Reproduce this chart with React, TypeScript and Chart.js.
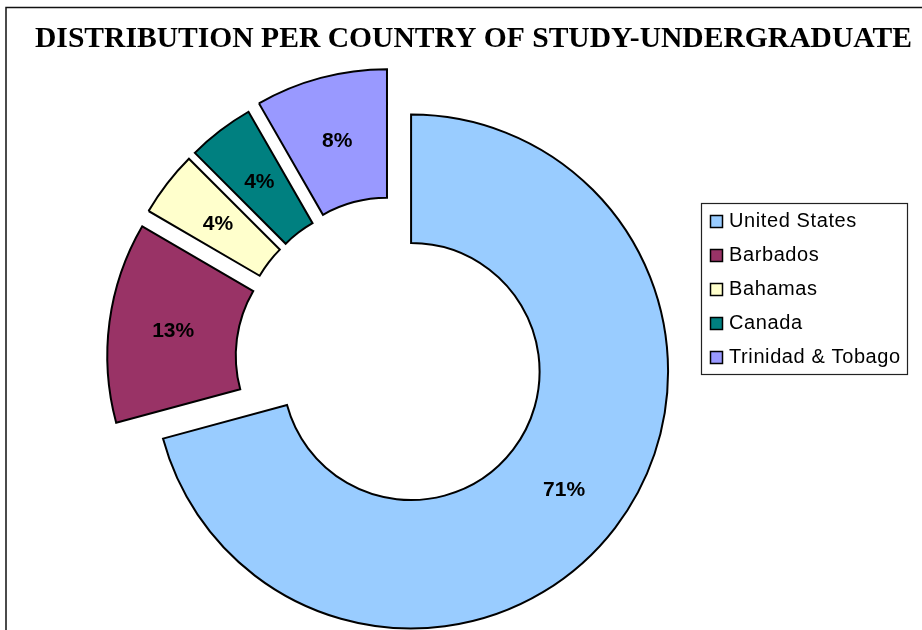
import React, { useEffect, useRef } from "react";
import { Chart, registerables } from "chart.js";

Chart.register(...registerables);

const TITLE = "DISTRIBUTION PER COUNTRY OF STUDY-UNDERGRADUATE";
const countries = ["United States", "Barbados", "Bahamas", "Canada", "Trinidad & Tobago"];
const shares = [70.8, 12.6, 4.1, 4.2, 8.3];

const sliceColors = ["#99CCFF", "#993366", "#FFFFCC", "#008080", "#9999FF"];
const explodeDistance = [19, 32, 32, 32, 35];

const W = 922;
const H = 630;
const SANS = '"Liberation Sans", Arial, sans-serif';
const SERIF = '"Liberation Serif", "Times New Roman", serif';

const decorPlugin = {
  id: "decor",
  beforeDraw(chart: any) {
    const ctx = chart.ctx as CanvasRenderingContext2D;
    ctx.save();
    ctx.fillStyle = "#ffffff";
    ctx.fillRect(0, 0, W, H);
    ctx.strokeStyle = "#111";
    ctx.lineWidth = 1.5;
    ctx.beginPath();
    ctx.moveTo(6, H + 10);
    ctx.lineTo(6, 7.5);
    ctx.lineTo(W + 10, 7.5);
    ctx.stroke();
    ctx.restore();
  },
  beforeDatasetsDraw(chart: any) {
    const ctx = chart.ctx as CanvasRenderingContext2D;
    const meta = chart.getDatasetMeta(0);
    const data = chart.data.datasets[0].data as number[];
    const total = data.reduce((a, b) => a + b, 0);
    meta.data.forEach((arc: any, i: number) => {
      const mid = (arc.startAngle + arc.endAngle) / 2;
      const d = explodeDistance[i] || 0;
      ctx.save();
      ctx.translate(Math.cos(mid) * d, Math.sin(mid) * d);
      arc.draw(ctx, chart.chartArea);
      ctx.restore();
    });
    ctx.save();
    ctx.font = `bold 21px ${SANS}`;
    ctx.fillStyle = "#000";
    ctx.textAlign = "center";
    ctx.textBaseline = "middle";
    meta.data.forEach((arc: any, i: number) => {
      const mid = (arc.startAngle + arc.endAngle) / 2;
      const d = explodeDistance[i] || 0;
      const c = arc.getCenterPoint();
      const label = Math.round((data[i] / total) * 100) + "%";
      ctx.fillText(label, c.x + Math.cos(mid) * d, c.y + Math.sin(mid) * d + 1);
    });
    ctx.restore();
    return false;
  },
  afterDraw(chart: any) {
    const ctx = chart.ctx as CanvasRenderingContext2D;
    ctx.save();
    // title
    ctx.font = `bold 29.6px ${SERIF}`;
    ctx.fillStyle = "#000";
    ctx.textAlign = "center";
    ctx.textBaseline = "alphabetic";
    ctx.fillText(TITLE, 473.5, 47);

    // legend
    const lx = 701, ly = 203, lw = 206, lh = 171;
    ctx.strokeStyle = "#222";
    ctx.lineWidth = 1.2;
    ctx.strokeRect(lx + 0.5, ly + 0.5, lw, lh);
    const labels = chart.data.labels as string[];
    const bg = chart.data.datasets[0].backgroundColor as string[];
    labels.forEach((name, i) => {
      const cy = 221.5 + 34 * i;
      ctx.fillStyle = bg[i];
      ctx.fillRect(710.5, cy - 6, 12, 12);
      ctx.strokeStyle = "#000";
      ctx.lineWidth = 1.5;
      ctx.strokeRect(710.5, cy - 6, 12, 12);
      ctx.fillStyle = "#000";
      ctx.font = `20px ${SANS}`;
      (ctx as any).letterSpacing = "0.6px";
      ctx.textAlign = "left";
      ctx.textBaseline = "alphabetic";
      ctx.fillText(name, 729, cy + 5.5);
      (ctx as any).letterSpacing = "0px";
    });
    ctx.restore();
  },
};

export default function App() {
  const canvasRef = useRef<HTMLCanvasElement | null>(null);

  useEffect(() => {
    const canvas = canvasRef.current;
    if (!canvas) return;
    const chart = new Chart(canvas, {
      type: "doughnut",
      data: {
        labels: countries,
        datasets: [
          {
            data: shares,
            backgroundColor: sliceColors,
            borderColor: "#000000",
            borderWidth: 2,
            borderJoinStyle: "miter",
            borderAlign: "center",
          } as any,
        ],
      },
      options: {
        responsive: false,
        animation: false,
        events: [],
        radius: 257,
        cutout: "50%",
        rotation: 0,
        layout: { padding: { left: 0, right: 130, top: 90, bottom: 0 } },
        plugins: {
          legend: { display: false },
          title: { display: false },
          tooltip: { enabled: false },
        },
      } as any,
      plugins: [decorPlugin as any],
    });
    return () => chart.destroy();
  }, []);

  return (
    <div style={{ position: "fixed", left: 0, top: 0, width: W, height: H, background: "#fff" }}>
      <canvas ref={canvasRef} width={W} height={H} style={{ display: "block" }} />
    </div>
  );
}
